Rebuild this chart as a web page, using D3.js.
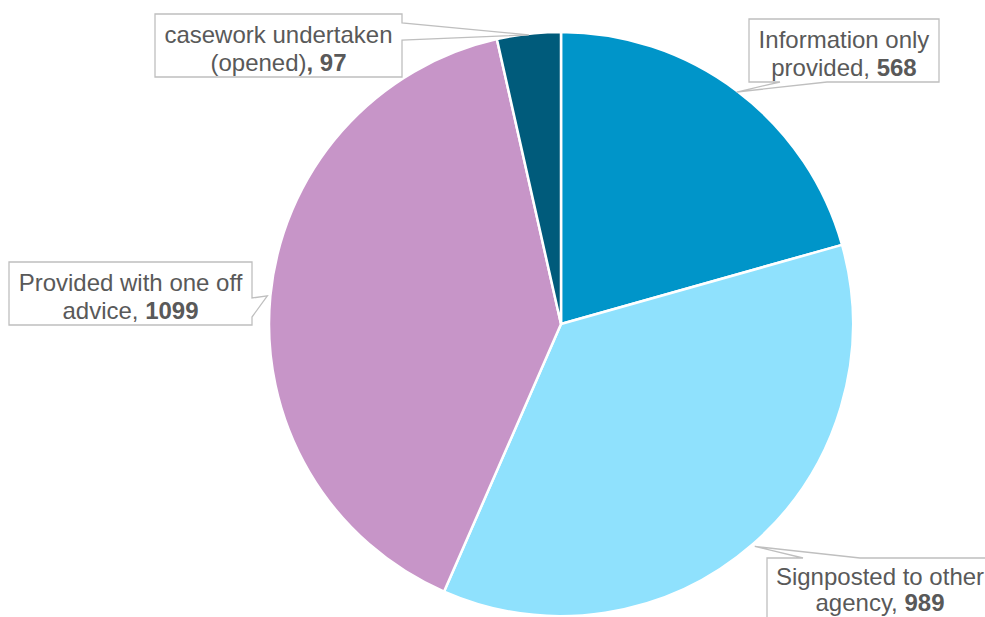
<!DOCTYPE html>
<html>
<head>
<meta charset="utf-8">
<script src="https://cdn.jsdelivr.net/npm/d3@7"></script>
<style>
  html, body { margin: 0; padding: 0; background: #fff; }
  svg { display: block; }
</style>
</head>
<body>
<svg id="chart" width="985" height="617"></svg>
<script>
// ---- data ----
const categories = ["Information only provided", "Signposted to other agency", "Provided with one off advice", "casework undertaken (opened)"];
const values = [568, 989, 1099, 97];
const labelLines = [
  ["Information only", "provided, "],
  ["Signposted to other", "agency, "],
  ["Provided with one off", "advice, "],
  ["casework undertaken", "(opened)"]
];
const colors = ["#0095C9", "#8FE1FD", "#C795C8", "#005B7B"];

// ---- layout ----
const W = 985, H = 617;
const cx = 561, cy = 324, R = 292;
const svg = d3.select("#chart");

const data = categories.map((c, i) => ({ cat: c, value: values[i], i }));
const pie = d3.pie().value(d => d.value).sort(null).startAngle(0).endAngle(2 * Math.PI);
const arcs = pie(data);
const arc = d3.arc().innerRadius(0).outerRadius(R);

const g = svg.append("g").attr("transform", `translate(${cx},${cy})`);
g.selectAll("path.slice")
  .data(arcs)
  .enter().append("path")
  .attr("class", "slice")
  .attr("d", arc)
  .attr("fill", d => colors[d.data.i])
  .attr("stroke", "#fff")
  .attr("stroke-width", 2.5)
  .attr("stroke-linejoin", "round");

// callout boxes: box rect + side on which the pointer leaves + pointer base
const boxes = [
  { x: 749, y: 19, w: 190, h: 63, side: "bottom", b0: 780, b1: 827, tipR: 291, t1: 29, t2: 57 },
  { x: 767, y: 558, w: 226, h: 63, side: "top", b0: 803, b1: 860, tipR: 295, t1: 27, t2: 53 },
  { x: 9, y: 262, w: 243, h: 63, side: "right", b0: 298, b1: 317, tipR: 295, t1: 29, t2: 57 },
  { x: 155, y: 14, w: 247, h: 63, side: "left-top-right", b0: 23, b1: 40, tipR: 291, t1: 29, t2: 57 }
];

function tipOf(a, r) {
  const m = (a.startAngle + a.endAngle) / 2;
  return [cx + r * Math.sin(m), cy - r * Math.cos(m)];
}

function calloutPath(b, tip) {
  const x0 = b.x, y0 = b.y, x1 = b.x + b.w, y1 = b.y + b.h;
  const p = d3.path();
  p.moveTo(x0, y0);
  if (b.side === "top") {
    p.lineTo(b.b0, y0); p.lineTo(tip[0], tip[1]); p.lineTo(b.b1, y0);
  }
  p.lineTo(x1, y0);
  if (b.side === "right" || b.side === "left-top-right") {
    p.lineTo(x1, b.b0); p.lineTo(tip[0], tip[1]); p.lineTo(x1, b.b1);
  }
  p.lineTo(x1, y1);
  if (b.side === "bottom") {
    p.lineTo(b.b1, y1); p.lineTo(tip[0], tip[1]); p.lineTo(b.b0, y1);
  }
  p.lineTo(x0, y1);
  p.closePath();
  return p.toString();
}

const lab = svg.append("g");
arcs.forEach((a, k) => {
  const i = a.data.i;
  const b = boxes[i];
  const tip = tipOf(a, b.tipR);
  lab.append("path")
    .attr("d", calloutPath(b, tip))
    .attr("fill", "#fff")
    .attr("stroke", "#BFBFBF")
    .attr("stroke-width", 1.3);
  const tx = b.x + b.w / 2;
  const lines = labelLines[i];
  lab.append("text")
    .attr("x", tx).attr("y", b.y + b.t1)
    .attr("text-anchor", "middle")
    .attr("font-family", "'Liberation Sans', Arial, sans-serif")
    .attr("font-size", 24)
    .attr("fill", "#595959")
    .text(lines[0]);
  const t2 = lab.append("text")
    .attr("x", tx).attr("y", b.y + b.t2)
    .attr("text-anchor", "middle")
    .attr("font-family", "'Liberation Sans', Arial, sans-serif")
    .attr("font-size", 24)
    .attr("fill", "#595959");
  t2.append("tspan").text(lines[1]);
  t2.append("tspan").attr("font-weight", "bold").text((i === 3 ? ", " : "") + a.data.value);
});
</script>
</body>
</html>
